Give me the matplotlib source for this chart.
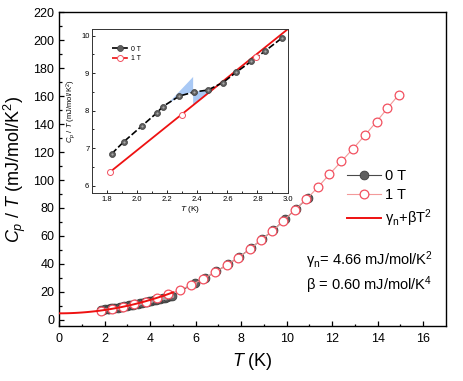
import numpy as np
import matplotlib
matplotlib.use("Agg")
import matplotlib.pyplot as plt
from matplotlib.lines import Line2D

plt.rcParams["font.family"] = ["Liberation Sans", "DejaVu Sans"]
plt.rcParams["mathtext.fontset"] = "custom"
plt.rcParams["mathtext.rm"] = "Liberation Sans"
plt.rcParams["mathtext.it"] = "Liberation Sans:italic"
plt.rcParams["mathtext.bf"] = "Liberation Sans:bold"

# ---- data ----
# 0 T, dense low-temperature part
T0_low = [1.83, 1.91, 2.03, 2.13, 2.17, 2.28, 2.38, 2.47, 2.57, 2.66, 2.76, 2.85, 2.96,
          3.05, 3.15, 3.25, 3.35, 3.45, 3.55, 3.65, 3.75, 3.85, 3.95, 4.05, 4.15,
          4.25, 4.35, 4.45, 4.55, 4.65, 4.75, 4.85, 4.95]
C0_low = [6.85, 7.17, 7.59, 7.94, 8.11, 8.39, 8.50, 8.55, 8.75, 9.03, 9.32, 9.59, 9.93,
          10.3, 10.6, 10.9, 11.2, 11.5, 11.8, 12.1, 12.5, 12.8, 13.2, 13.5, 13.9,
          14.3, 14.7, 15.1, 15.5, 15.9, 16.4, 16.9, 17.4]
# 0 T, sparse high-temperature part
T0_high = [5.96, 6.41, 6.91, 7.42, 7.92, 8.42, 8.92, 9.42, 9.92, 10.42, 10.92]
C0_high = [26.2, 30.0, 34.6, 39.8, 45.0, 51.1, 57.8, 64.2, 71.8, 79.6, 87.0]

# 1 T
T1 = [1.82, 2.30, 2.79, 3.30, 3.80, 4.30, 4.80, 5.30, 5.80, 6.33, 6.84, 7.36, 7.85, 8.37,
      8.86, 9.36, 9.86, 10.36, 10.87, 11.38, 11.88, 12.41, 12.92, 13.44, 13.95, 14.43, 14.93]
C1 = [6.37, 7.88, 9.43, 11.2, 13.0, 15.6, 18.4, 21.5, 24.8, 29.4, 33.9, 39.2, 44.2, 50.4,
      57.1, 63.3, 70.9, 78.7, 86.2, 95.0, 104.1, 113.4, 122.4, 132.0, 141.7, 151.3, 161.0]

# fit parameters
gamma_n = 4.66
beta = 0.60
T_fit_max = 5.0

# fit line as drawn in the inset
T_fit_inset = [1.83, 3.0]
C_fit_inset = [6.40, 10.17]

# entropy-balance shading in the inset
shade1_T = [2.19, 2.372, 2.372, 2.28, 2.19]
shade1_C = [8.13, 8.90, 8.50, 8.39, 8.13]
shade2_T = [2.372, 2.47, 2.57, 2.372]
shade2_C = [8.50, 8.55, 8.76, 8.14]

gray = "#5e5e5e"
red_edge = "#f2505f"
pink = "#f39a9a"

fig = plt.figure(figsize=(4.63, 3.81), dpi=100)
ax = fig.add_axes([0.128, 0.144, 0.835, 0.824])

T0 = T0_low + T0_high
C0 = C0_low + C0_high
l0, = ax.plot(T0, C0, "-", color="#4a4a4a", lw=0.8, marker="o", ms=6.3,
              mfc=gray, mec="#3c3c3c", mew=0.6, label="0 T", zorder=2)
ax.plot(T0, C0, ls="none", marker="o", ms=2.4, mfc="#a8a8a8", mec="none", zorder=2.1)
l1, = ax.plot(T1, C1, "-", color=pink, lw=0.8, marker="o", ms=6.3,
              mfc="white", mec=red_edge, mew=0.9, label="1 T", zorder=3)
T_fit = np.linspace(0, T_fit_max, 100)
lf, = ax.plot(T_fit, gamma_n + beta * T_fit ** 2, "-", color="#ee1111", lw=1.4,
              label="γ$_{\\rm n}$+βT$^2$", zorder=4)

ax.set_xlim(0, 17)
ax.set_ylim(-4.5, 220)
ax.set_xticks(np.arange(0, 17, 2))
ax.set_xticks(np.arange(0, 17, 1), minor=True)
ax.set_yticks(np.arange(0, 221, 20))
ax.set_yticks(np.arange(0, 221, 10), minor=True)
ax.tick_params(which="both", direction="in", top=False, right=False, labelsize=9)
ax.tick_params(which="major", length=3.4, width=0.9)
ax.tick_params(which="minor", length=1.8, width=0.9)
ax.tick_params(axis="x", pad=5)
for s in ax.spines.values():
    s.set_linewidth(1.0)
ax.set_xlabel(r"$T$ (K)", fontsize=13, labelpad=4)
ax.set_ylabel(r"$C_p$ / $T$ (mJ/mol/K$^2$)", fontsize=13, labelpad=4)

ax.legend(handles=[l0, l1, lf], loc="upper left", bbox_to_anchor=(0.745, 0.50),
          frameon=False, fontsize=10.5, handlelength=2.3, handletextpad=0.3,
          labelspacing=0.35, borderpad=0, borderaxespad=0)

ax.text(0.637, 0.195, "γ$_{\\rm n}$= 4.66 mJ/mol/K$^2$", transform=ax.transAxes,
        fontsize=10.5, ha="left", va="baseline")
ax.text(0.637, 0.115, "β = 0.60 mJ/mol/K$^4$", transform=ax.transAxes,
        fontsize=10.5, ha="left", va="baseline")

# ---- inset ----
ins = fig.add_axes([0.199, 0.493, 0.422, 0.430])
ins.fill(shade1_T, shade1_C, color="#a9c9f5", lw=0, zorder=1)
ins.fill(shade2_T, shade2_C, color="#a9c9f5", lw=0, zorder=1)
i0, = ins.plot(T0_low[:13], C0_low[:13], "--", color="black", lw=1.2, dashes=(4, 1.5),
               marker="o", ms=4.3, mfc=gray, mec="#3c3c3c", mew=0.5, label="0 T", zorder=3)
ins.plot(T0_low[:13], C0_low[:13], ls="none", marker="o", ms=1.6, mfc="#a8a8a8",
         mec="none", zorder=3.1)
ins.plot(T_fit_inset, C_fit_inset, "-", color="#ee1111", lw=1.3, zorder=2)
ins.plot(T1[:3], C1[:3], ls="none", marker="o", ms=4.3, mfc="white", mec=red_edge,
         mew=0.7, zorder=4)
i1 = Line2D([], [], ls="--", color="#ee1111", lw=1.2, dashes=(4, 1.5), marker="o", ms=4.3,
            mfc="white", mec=red_edge, mew=0.7, label="1 T")
ins.set_xlim(1.7, 3.0)
ins.set_ylim(5.8, 10.17)
ins.set_xticks(np.arange(1.8, 3.01, 0.2))
ins.set_xticks(np.arange(1.7, 3.01, 0.1), minor=True)
ins.set_yticks(np.arange(6, 10.1, 1))
ins.set_yticks(np.arange(6, 10.1, 0.5), minor=True)
ins.tick_params(which="both", direction="in", top=False, right=False, labelsize=5.5, pad=2)
ins.tick_params(which="major", length=2.2, width=0.6)
ins.tick_params(which="minor", length=1.2, width=0.6)
for s in ins.spines.values():
    s.set_linewidth(0.7)
    s.set_color("#333333")
ins.set_xlabel(r"$T$ (K)", fontsize=6, labelpad=0.5)
ins.set_ylabel(r"$C_p$ / $T$ (mJ/mol/K$^2$)", fontsize=5.5, labelpad=2)
ins.legend(handles=[i0, i1], loc="upper left", bbox_to_anchor=(0.1, 0.9), frameon=False,
           fontsize=5, handlelength=2.5, handletextpad=0.3, labelspacing=0.4,
           borderpad=0, borderaxespad=0)

fig.savefig("out.png", dpi=100)
